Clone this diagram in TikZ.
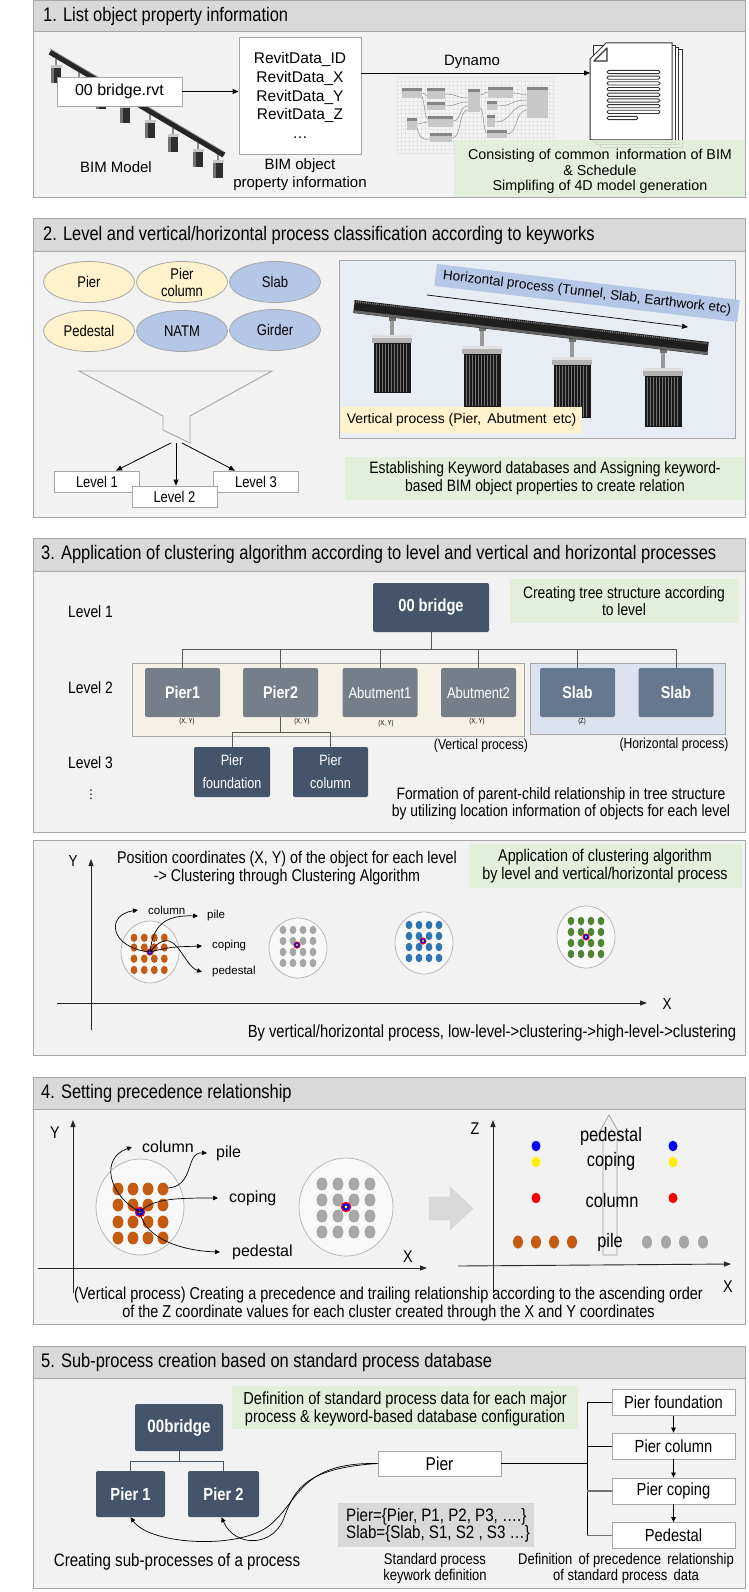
\documentclass[tikz,border=0pt]{standalone}
\usepackage{fontspec}
\setmainfont{Liberation Sans}
\newfontfamily\cf{Liberation Sans}[FakeStretch=0.84]
\newfontfamily\dv{DejaVu Sans}
\usetikzlibrary{arrows.meta,shapes.geometric,calc}
\definecolor{bordc}{HTML}{A6A6A6}
\definecolor{panc}{HTML}{F2F2F2}
\definecolor{headc}{HTML}{D9D9D9}
\definecolor{grnc}{HTML}{E2EFDA}
\definecolor{yelc}{HTML}{FFF2CC}
\definecolor{bluc}{HTML}{B4C7E7}
\definecolor{darkc}{HTML}{44546A}
\definecolor{grayc}{HTML}{767F89}
\definecolor{slabc}{HTML}{66788F}
\definecolor{beigec}{HTML}{F6F1E6}
\definecolor{hbandc}{HTML}{DCE3EE}
\definecolor{framec}{HTML}{E8ECF3}
\definecolor{orc}{HTML}{C55A11}
\definecolor{gdot}{HTML}{A6A6A6}
\definecolor{bdot}{HTML}{2E75B6}
\definecolor{grdot}{HTML}{548235}
\definecolor{dynb}{HTML}{C8C8C8}
\definecolor{dynh}{HTML}{858585}
\newcommand\dynnode[4]{\fill[dynb] (#1,#2) rectangle (#3,#4); \fill[dynh] (#1,#2) rectangle (#3,#2+3.5);}
\newcommand\mkr[3]{\fill[red] (#1,#2) circle (#3); \fill[blue] (#1,#2) circle (0.72*#3); \fill[yellow] (#1,#2) circle (0.3*#3);}
\tikzset{
  ttl/.style={anchor=west, inner sep=0, font=\fontsize{19.6}{21}\cf},
  wbox/.style={draw=bordc, fill=white, line width=0.8pt, inner sep=0},
  arr/.style={-{Triangle[length=6pt,width=5pt]}, line width=0.8pt},
  tarr/.style={-{Triangle[length=5pt,width=4.5pt]}, line width=0.7pt},
  carr/.style={-{Triangle[length=5pt,width=4.5pt]}, line width=0.7pt},
  ar/.style={inner sep=0, font=\fontsize{15}{18.7}\selectfont},
  cn/.style={inner sep=0, align=center, font=\fontsize{17}{18}\cf},
  ell/.style={ellipse, draw=bordc, line width=0.8pt, minimum width=91pt, minimum height=41pt, inner sep=0, align=center, font=\fontsize{15.5}{17}\cf},
  lvl/.style={wbox, minimum width=85pt, minimum height=21pt, font=\fontsize{15.5}{17}\cf},
  dbx/.style={fill=darkc, text=white, rounded corners=2pt, inner sep=0, align=center},
  gbx/.style={fill=grayc, text=white, rounded corners=2pt, inner sep=0, minimum width=75pt, minimum height=49pt},
  sbx/.style={fill=slabc, text=white, rounded corners=2pt, inner sep=0, minimum width=75pt, minimum height=49pt},
  tree/.style={draw=black!65, line width=0.9pt},
  axis/.style={-{Triangle[length=7pt,width=5pt]}, line width=0.9pt, black!85},
  clu/.style={draw=black!30, fill=white!50!panc, line width=0.7pt},
  tiny/.style={inner sep=0, font=\fontsize{7}{8}\cf},
  sm/.style={inner sep=0, anchor=west, font=\fontsize{11.5}{12}\selectfont},
  md/.style={inner sep=0, anchor=west, font=\fontsize{16}{17}\selectfont},
  rbox/.style={wbox, minimum width=123pt, minimum height=26pt, font=\fontsize{17.5}{18}\cf},
}
\begin{document}
\begin{tikzpicture}[x=1pt,y=-1pt]
\useasboundingbox (0,0) rectangle (748,1592);
\fill[white] (0,0) rectangle (748,1592);

%================ PANEL 1
\fill[panc] (33,1) rectangle (745,197);
\fill[headc] (33,1) rectangle (745,32);
\draw[bordc, line width=1pt] (33,32) -- (745,32);
\node[ttl] (t1) at (43,16.5) {1. List object property information};
% bridge model
\foreach \px in {56,79,101,125,150,173,198,218}{
  \pgfmathsetmacro\ry{52+(\px-50)*0.592+3}
  \fill[black!45] (\px-1,\ry) rectangle (\px+1,\ry+6);
  \fill[black!22] (\px-5.5,\ry+6) rectangle (\px+5.5,\ry+9);
  \fill[black!82] (\px-5,\ry+9) rectangle (\px+5,\ry+24);
  \fill[black!55] (\px-5,\ry+9) rectangle (\px-2,\ry+24);
}
\draw[line width=5.5pt, black!85] (50,52) -- (224,155);
\draw[line width=0.8pt, black!40] (50,48.8) -- (224,151.8);
\node[wbox, minimum width=125pt, minimum height=29pt, font=\fontsize{16}{18}\selectfont] (rvt) at (119.5,91.5) {00 bridge.rvt};
\node[ar] (bimm) at (116,167) {BIM Model};
\node[wbox, minimum width=122pt, minimum height=117pt, align=center, font=\fontsize{15.5}{18.7}\selectfont] (list) at (300,95.5) {RevitData\_ID\\RevitData\_X\\RevitData\_Y\\RevitData\_Z\\…};
\node[ar, align=center, font=\fontsize{15}{18}\selectfont] (bimo) at (300,175) {BIM object\\property information};
\draw[arr] (rvt.east) -- (rvt.east -| list.west);
% dynamo graph
\fill[white!96!black] (397,77) rectangle (555,153);
\foreach \gx in {397,401,...,555} \draw[black!10, line width=0.3pt] (\gx,77) -- (\gx,153);
\foreach \gy in {77,81,...,153} \draw[black!10, line width=0.3pt] (397,\gy) -- (555,\gy);
\begin{scope}[draw=black!45, line width=0.5pt]
\draw (422,93) .. controls (426,93) and (424,96) .. (427,96);
\draw (445,94) .. controls (458,94) and (455,98) .. (468,98);
\draw (445,106) .. controls (458,106) and (455,102) .. (468,102);
\draw (453,121) .. controls (462,121) and (458,106) .. (468,106);
\draw (417,124) .. controls (422,124) and (423,122) .. (428,122);
\draw (452,138) .. controls (462,138) and (458,110) .. (468,110);
\draw (480,95) .. controls (484,95) and (484,92) .. (488,92);
\draw (513,93) .. controls (520,93) and (520,95) .. (527,95);
\draw (497,106) .. controls (512,106) and (512,100) .. (527,100);
\draw (495,122) .. controls (512,122) and (510,105) .. (527,105);
\draw (507,134) .. controls (518,134) and (515,110) .. (527,110);
\draw (480,108) .. controls (484,108) and (483,133) .. (487,133);
\draw (417,128) .. controls (420,140) and (425,140) .. (430,139);
\draw (422,96) .. controls (426,110) and (424,116) .. (428,119);
\end{scope}
\dynnode{402}{88}{422}{98}
\dynnode{427}{88}{445}{99}
\dynnode{427}{102}{445}{110}
\dynnode{428}{116}{453}{127}
\dynnode{407}{118}{417}{130}
\dynnode{430}{133}{452}{142}
\dynnode{468}{89}{480}{112}
\dynnode{488}{87}{513}{98}
\dynnode{487}{101}{497}{110}
\dynnode{487}{115}{495}{127}
\dynnode{487}{130}{507}{138}
\dynnode{527}{87}{548}{118}
% document stack
\foreach \o in {10,6.7,3.4}{
  \draw[black!80, line width=1pt, fill=white] (590+\o,43+\o*0.7) rectangle (672+\o,140+\o*0.7);
}
\draw[black!80, line width=1pt, fill=white] (606,43) -- (672,43) -- (672,140) -- (590,140) -- (590,59) -- cycle;
\draw[black!80, line width=1.2pt, line join=round] (594,61) -- (607,61) -- (607,48) -- cycle;
\foreach \by in {72,77.7,83.4,89.1,94.8,100.5,106.2,111.9}
  \draw[black!80, line width=0.9pt, rounded corners=1.5pt] (607,\by-1.6) rectangle (660,\by+1.6);
\draw[black!80, line width=0.9pt, rounded corners=1.5pt] (607,116.4) rectangle (638,119.6);
\coordinate (docin) at (590,73);
\draw[arr] (list.east |- docin) -- (docin);
\node[ar] (dyn) at (472,62) {Dynamo};
\fill[grnc, fill opacity=0.88] (454,140) rectangle (745,197);
\node[ar, align=center, font=\fontsize{14.3}{15.6}\selectfont] (g1) at (600,171.5) {Consisting of common\, information of BIM\\\& Schedule\\Simplifing of 4D model generation};
\draw[bordc, line width=1pt] (33,1) rectangle (745,197);

%================ PANEL 2
\fill[panc] (33,218) rectangle (745,517);
\fill[headc] (33,218) rectangle (745,251);
\draw[bordc, line width=1pt] (33,251) -- (745,251);
\node[ttl] (t2) at (43,235) {2. Level and vertical/horizontal process classification according to keyworks};
\node[ell, fill=yelc] (e1) at (89,282) {Pier};
\node[ell, fill=yelc] (e2) at (182,282) {Pier\\column};
\node[ell, fill=bluc] (e3) at (275,282) {Slab};
\node[ell, fill=yelc] (e4) at (89,331) {Pedestal};
\node[ell, fill=bluc] (e5) at (182,331) {NATM};
\node[ell, fill=bluc] (e6) at (275,330) {Girder};
\draw[bordc, line width=0.9pt] (79,371) -- (272,371) -- (190,416) -- (190,443) -- (163,430) -- (163,416) -- cycle;
\coordinate (f1) at (171,443);
\coordinate (f2) at (176,443);
\coordinate (f3) at (182,443);
\node[lvl] (lv1) at (97,481.5) {Level 1};
\node[lvl] (lv3) at (256,481.5) {Level 3};
\node[lvl] (lv2) at (174.5,496.5) {Level 2};
\draw[arr] (f1) -- ([xshift=19pt]lv1.north);
\draw[arr] (f2) -- (f2 |- lv2.north);
\draw[arr] (f3) -- ([xshift=-21pt]lv3.north);
% bridge picture
\draw[bordc, line width=0.9pt, fill=framec] (339,260) rectangle (735,438);
\foreach \cx/\rb/\ct/\bb in {392/317/335/393, 482/327/346/407, 572/338/357/418, 663/349/368/427}{
  \fill[black!40] (\cx-2.2,\rb) rectangle (\cx+2.2,\ct);
  \fill[black!55] (\cx-3.5,\rb) rectangle (\cx+3.5,\rb+4);
  \fill[black!30] (\cx-20,\ct) rectangle (\cx+20,\ct+8);
  \fill[black!12] (\cx-20,\ct) rectangle (\cx+20,\ct+3);
  \fill[black!90] (\cx-18.5,\ct+8) rectangle (\cx+18.5,\bb);
  \foreach \lx in {-16,-13,...,16} \draw[black!55, line width=0.45pt] (\cx+\lx,\ct+9) -- (\cx+\lx,\bb-1);
}
\draw[line width=13pt, black!88] (354,306.5) -- (708,348.5);
\draw[black!55, line width=1.6pt, dash pattern=on 1pt off 1pt] (354,301.5) -- (708,343.5);
\draw[black!60, line width=2.5pt] (354,311.5) -- (708,353.5);
\node[rotate=-6.8, fill=bluc, minimum width=305pt, minimum height=22pt, inner sep=0, font=\fontsize{13.5}{15}\selectfont] (hl) at (587,293) {Horizontal process (Tunnel, Slab, Earthwork etc)};
\coordinate (ha) at (427,295);
\coordinate (hb) at (688,327);
\draw[arr, line width=0.7pt] (ha) -- (hb);
\node[fill=yelc, minimum width=241pt, minimum height=26pt, inner sep=0, font=\fontsize{13.9}{15}\selectfont] (vl) at (461.5,420) {Vertical process (Pier,\, Abutment\, etc)};
\fill[grnc] (345,457) rectangle (745,500);
\node[cn, font=\fontsize{16.5}{18}\cf] (g2) at (545,478.5) {Establishing Keyword databases and Assigning keyword-\\based BIM object properties to create relation};
\draw[bordc, line width=1pt] (33,218) rectangle (745,517);

%================ PANEL 3
\fill[panc] (33,538) rectangle (745,832);
\fill[headc] (33,538) rectangle (745,571);
\draw[bordc, line width=1pt] (33,571) -- (745,571);
\node[ttl] (t3) at (41,554) {3. Application of clustering algorithm according to level and vertical and horizontal processes};
\node[md, font=\fontsize{16.5}{17}\cf] (l1) at (68,612) {Level 1};
\node[md, font=\fontsize{16.5}{17}\cf] (l2) at (68,688) {Level 2};
\node[md, font=\fontsize{16.5}{17}\cf] (l3) at (68,763) {Level 3};
\node[inner sep=0, font=\fontsize{12}{12}\dv] (l4) at (91,795) {⋮};
\fill[grnc] (510,579) rectangle (739,623);
\node[cn, font=\fontsize{16.5}{16.5}\cf] (g3) at (624,601) {Creating tree structure according\\to level};
\draw[bordc, line width=0.8pt, fill=beigec] (132,663) rectangle (524,736);
\draw[bordc, line width=0.8pt, fill=hbandc] (530,663) rectangle (725,734);
\node[dbx, minimum width=116pt, minimum height=49pt, font=\fontsize{17.5}{18}\cf\bfseries] (b00) at (431,607.5) {00 bridge};
\node[gbx, font=\fontsize{17}{17}\cf\bfseries] (p1) at (182.5,692.5) {Pier1};
\node[gbx, font=\fontsize{17}{17}\cf\bfseries] (p2) at (280.5,692.5) {Pier2};
\node[gbx, font=\fontsize{15.5}{16}\cf] (a1) at (380,692.5) {Abutment1};
\node[gbx, font=\fontsize{15.5}{16}\cf] (a2) at (478.5,692.5) {Abutment2};
\node[sbx, font=\fontsize{17}{17}\cf\bfseries] (s1) at (577.5,692.5) {Slab};
\node[sbx, font=\fontsize{17}{17}\cf\bfseries] (s2) at (676,692.5) {Slab};
\draw[tree] (b00.south) -- ++(0,17) coordinate (tj);
\draw[tree] (p1.north) -- (p1.north |- tj) -- (s2.north |- tj) -- (s2.north);
\foreach \bn in {p2,a1,a2,s1} \draw[tree] (\bn.north) -- (\bn.north |- tj);
\node[tiny] (xy1) at (187,722) {(X, Y)};
\node[tiny] (xy2) at (302,722) {(X, Y)};
\node[tiny] (xy3) at (386,724) {(X, Y)};
\node[tiny] (xy4) at (477,722) {(X, Y)};
\node[tiny] (xy5) at (582,722) {(Z)};
\node[dbx, minimum width=76pt, minimum height=50pt, font=\fontsize{15}{23}\cf] (pf) at (232,772) {Pier\\foundation};
\node[dbx, minimum width=75pt, minimum height=50pt, font=\fontsize{15}{23}\cf] (pc) at (330.5,772) {Pier\\column};
\draw[tree] (p2.south) -- ++(0,15) coordinate (tj2);
\draw[tree] (pf.north) -- (pf.north |- tj2) -- (pc.north |- tj2) -- (pc.north);
\node[inner sep=0, font=\fontsize{14.5}{15}\cf] (vp) at (481,746) {(Vertical process)};
\node[inner sep=0, font=\fontsize{14.5}{15}\cf] (hp) at (674,745) {(Horizontal process)};
\node[cn, font=\fontsize{16.5}{17}\cf] (b3) at (561,803.5) {Formation of parent-child relationship in tree structure\\by utilizing location information of objects for each level};
\draw[bordc, line width=1pt] (33,538) rectangle (745,832);

%================ PANEL 3b
\fill[panc] (33,840) rectangle (745,1055);
\draw[axis] (91,1030) -- (91,859);
\draw[axis] (57,1003) -- (647,1003);
\node[inner sep=0, font=\fontsize{16}{16}\cf] (ay) at (73,861) {Y};
\node[inner sep=0, font=\fontsize{16}{16}\cf] (ax) at (667,1004) {X};
\node[cn] (pc1) at (287,868.5) {Position coordinates (X, Y) of the object for each level\\-> Clustering through Clustering Algorithm};
\fill[grnc] (469,844) rectangle (742,888);
\node[cn] (g4) at (605,866) {Application of clustering algorithm\\by level and vertical/horizontal process};
\draw[clu] (150,952) ellipse (29pt and 31pt);
\draw[clu] (298,948) ellipse (29pt and 30pt);
\draw[clu] (424,943) ellipse (29pt and 31pt);
\draw[clu] (586,937) ellipse (29pt and 31pt);
\foreach \dx in {134,144.3,154.3,164.3} \foreach \dy in {937.7,947.5,958.7,970} \fill[orc] (\dx,\dy) ellipse (3.4pt and 4.2pt);
\foreach \dx in {283,293,303,313} \foreach \dy in {930,941,952,963} \fill[gdot] (\dx,\dy) ellipse (3.4pt and 4.2pt);
\foreach \dx in {409,419,429,439} \foreach \dy in {925,936,947,958} \fill[bdot] (\dx,\dy) ellipse (3.4pt and 4.2pt);
\foreach \dx in {571,581,591,601} \foreach \dy in {921,932,943,954} \fill[grdot] (\dx,\dy) ellipse (3.4pt and 4.2pt);
\mkr{150}{952}{3.6pt}
\mkr{297}{945}{3.6pt}
\mkr{423}{941}{3.6pt}
\mkr{586}{937}{3.6pt}
\coordinate (m1) at (150,952);
\node[sm] (cl1) at (148,910) {column};
\node[sm] (pl1) at (207,916) {pile};
\node[sm] (cp1) at (212,946) {coping};
\node[sm] (pd1) at (212,972) {pedestal};
\draw[carr] (m1) .. controls (110,948) and (105,915) .. ([xshift=-10pt]cl1.west);
\draw[carr] (m1) .. controls (153,925) and (165,915) .. ([xshift=-9pt]pl1.west);
\draw[carr] (m1) .. controls (170,947) .. ([xshift=-10pt]cp1.west);
\draw[carr] (m1) .. controls (175,920) and (182,965) .. ([xshift=-10pt]pd1.west);
\node[cn, font=\fontsize{17.6}{17}\cf] (b3b) at (492,1033) {By vertical/horizontal process, low-level->clustering->high-level->clustering};
\draw[bordc, line width=1pt] (33,840) rectangle (745,1055);

%================ PANEL 4
\fill[panc] (33,1077) rectangle (745,1324);
\fill[headc] (33,1077) rectangle (745,1109);
\draw[bordc, line width=1pt] (33,1109) -- (745,1109);
\node[ttl] (t4) at (41,1093) {4. Setting precedence relationship};
\draw[axis] (73,1293) -- (73,1120);
\draw[axis] (38,1268) -- (427,1268);
\node[inner sep=0, font=\fontsize{17}{17}\cf] (ay4) at (55,1133) {Y};
\node[inner sep=0, font=\fontsize{17}{17}\cf] (ax4) at (408,1257) {X};
\draw[clu] (140,1207) ellipse (44pt and 48pt);
\draw[clu] (346,1207) ellipse (47pt and 49pt);
\foreach \dx in {118,133,148,163} \foreach \dy in {1189,1205,1222,1238} \fill[orc] (\dx,\dy) ellipse (5.4pt and 6.4pt);
\foreach \dx in {322,338,354,370} \foreach \dy in {1184,1200,1216,1232} \fill[gdot] (\dx,\dy) ellipse (5.4pt and 6.4pt);
\mkr{140}{1212}{5.3pt}
\mkr{346}{1207}{5.3pt}
\coordinate (m4) at (140,1212);
\coordinate (pt4) at (168,1188);
\node[md] (cl4) at (142,1147) {column};
\node[md] (pl4) at (216,1153) {pile};
\node[md] (cp4) at (229,1198) {coping};
\node[md] (pd4) at (232,1252) {pedestal};
\draw[carr] (m4) .. controls (108,1195) and (100,1158) .. ([xshift=-10pt]cl4.west);
\draw[carr] (pt4) .. controls (195,1186) and (185,1152) .. ([xshift=-9pt]pl4.west);
\draw[carr] (m4) .. controls (152,1198) and (180,1198) .. ([xshift=-11pt]cp4.west);
\draw[carr] (m4) .. controls (145,1240) and (185,1251) .. ([xshift=-12pt]pd4.west);
\draw[black!18, fill=headc] (429,1197) -- (450,1197) -- (450,1187) -- (473,1208.5) -- (450,1230) -- (450,1220) -- (429,1220) -- cycle;
\draw[axis] (493,1293) -- (493,1120);
\draw[axis] (458,1266) -- (731,1264);
\node[inner sep=0, font=\fontsize{17}{17}\cf] (az4) at (475,1129) {Z};
\node[inner sep=0, font=\fontsize{17}{17}\cf] (ax4b) at (728,1287) {X};
\draw[black!40, line width=0.7pt] (603,1255) -- (603,1140) -- (595,1140) -- (609,1115) -- (623,1140) -- (617,1140) -- (617,1255) -- cycle;
\node[inner sep=0, font=\fontsize{19.5}{19}\cf] (zp) at (611,1136) {pedestal};
\node[inner sep=0, font=\fontsize{19.5}{19}\cf] (zc) at (611,1161) {coping};
\node[inner sep=0, font=\fontsize{19.5}{19}\cf] (zco) at (612,1201) {column};
\node[inner sep=0, font=\fontsize{19.5}{19}\cf] (zpi) at (610,1242) {pile};
\foreach \zx in {536,673}{
  \fill[blue] (\zx,1146) ellipse (4.5pt and 5.3pt);
  \fill[yellow] (\zx,1162) ellipse (4.5pt and 5.3pt);
  \fill[red] (\zx,1198) ellipse (4.5pt and 5.3pt);
}
\foreach \zx in {518,536,554,572} \fill[orc] (\zx,1242) ellipse (5pt and 6.5pt);
\foreach \zx in {647,666,684,703} \fill[gdot] (\zx,1242) ellipse (5pt and 6.5pt);
\node[cn, font=\fontsize{17.2}{17.5}\cf] (b4) at (388.5,1304) {(Vertical process) Creating a precedence and trailing relationship according to the ascending order\\of the Z coordinate values for each cluster created through the X and Y coordinates};
\draw[bordc, line width=1pt] (33,1077) rectangle (745,1324);

%================ PANEL 5
\fill[panc] (33,1346) rectangle (745,1588);
\fill[headc] (33,1346) rectangle (745,1378);
\draw[bordc, line width=1pt] (33,1378) -- (745,1378);
\node[ttl] (t5) at (41,1362) {5. Sub-process creation based on standard process database};
\fill[grnc] (232,1386) rectangle (578,1429);
\node[cn, font=\fontsize{17.4}{18}\cf] (g5) at (405,1408.5) {Definition of standard process data for each major\\process \& keyword-based database configuration};
\node[dbx, minimum width=88pt, minimum height=47pt, font=\fontsize{18}{18}\cf\bfseries] (b5) at (179,1427.5) {00bridge};
\node[dbx, minimum width=69pt, minimum height=46pt, font=\fontsize{17.5}{18}\cf\bfseries] (q1) at (130.5,1494) {Pier 1};
\node[dbx, minimum width=71pt, minimum height=46pt, font=\fontsize{17.5}{18}\cf\bfseries] (q2) at (223.5,1494) {Pier 2};
\draw[draw=darkc, line width=0.9pt] (b5.south) -- ++(0,10) coordinate (tj5);
\draw[draw=darkc, line width=0.9pt] (q1.north) -- (q1.north |- tj5) -- (q2.north |- tj5) -- (q2.north);
\node[cn, font=\fontsize{18}{18}\cf] (cs) at (177,1562) {Creating sub-processes of a process};
\node[wbox, minimum width=123pt, minimum height=25pt, font=\fontsize{18.5}{18}\cf] (pier) at (439.5,1463.5) {Pier};
\draw[carr] (pier.west) .. controls (300,1462) and (300,1500) .. (270,1525) .. controls (240,1550) and (150,1545) .. (q1.south);
\draw[carr] (pier.west) .. controls (305,1468) and (295,1490) .. (285,1515) .. controls (275,1548) and (235,1548) .. ([xshift=-2pt]q2.south);
\fill[headc] (338,1503) rectangle (534,1547);
\node[inner sep=0, anchor=west, align=left, font=\fontsize{18}{17}\cf] (kw) at (346,1525.5) {Pier=\{Pier, P1, P2, P3, ….\}\\Slab=\{Slab, S1, S2 , S3 …\}};
\node[cn, font=\fontsize{15.5}{16}\cf] (sk) at (435,1568) {Standard process\\keywork definition};
\node[cn, font=\fontsize{15.5}{16}\cf] (dp) at (626,1568) {Definition\,  of precedence\,  relationship\\of standard process\, data};
\node[rbox] (r1) at (673.5,1402.5) {Pier foundation};
\node[rbox] (r2) at (673.5,1446) {Pier column};
\node[rbox] (r3) at (673.5,1491) {Pier coping};
\node[rbox] (r4) at (673.5,1535.5) {Pedestal};
\draw[tarr] (r1.south) -- (r2.north);
\draw[tarr] (r2.south) -- (r3.north);
\draw[tarr] (r3.south) -- (r4.north);
\coordinate (br) at (587,1463.5);
\draw[line width=0.8pt] (r1.west) -- (r1.west -| br) -- (r4.west -| br) -- (r4.west);
\draw[line width=0.8pt] (r2.west) -- (r2.west -| br);
\draw[line width=1.4pt, black!55] (r3.west) -- (r3.west -| br);
\draw[line width=1.4pt, black!55] (r4.west) -- (r4.west -| br);
\draw[line width=0.8pt] (pier.east) -- (br);
\draw[bordc, line width=1pt] (33,1346) rectangle (745,1588);
\end{tikzpicture}
\end{document}
